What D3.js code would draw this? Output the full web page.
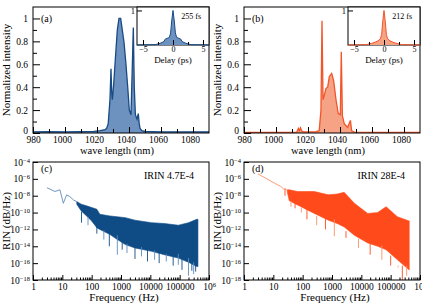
<!DOCTYPE html>
<html>
<head>
<meta charset="utf-8">
<script src="https://cdn.jsdelivr.net/npm/d3@7"></script>
<style>
  body { margin: 0; background: #fff; }
  svg { display: block; }
  text { font-family: "Liberation Serif", "DejaVu Serif", serif; }
</style>
</head>
<body>
<svg id="chart" width="422" height="303"></svg>
<script>
// ---- spectra (a) and (b) ----
const wlA = [980, 990, 1000, 1010, 1018, 1022, 1025, 1026, 1027, 1028.1, 1028.75, 1029.2, 1029.6, 1030.4, 1031.25, 1032.7, 1033.75, 1034.8, 1035.8, 1036.9, 1038.1, 1039.2, 1040.2, 1041.25, 1042.1, 1042.7, 1043.3, 1044, 1045, 1045.8, 1046.4, 1046.9, 1048, 1050, 1060, 1070, 1080, 1090];
const intA = [0.01, 0.012, 0.01, 0.012, 0.015, 0.02, 0.03, 0.04, 0.08, 0.29, 0.56, 0.35, 0.29, 0.42, 0.6, 0.9, 1.0, 1.0, 0.9, 0.79, 0.6, 0.4, 0.2, 0.16, 0.6, 0.92, 0.4, 0.16, 0.12, 0.17, 0.08, 0.04, 0.02, 0.015, 0.01, 0.01, 0.01, 0.01];

const wlB = [980, 990, 1000, 1010, 1013, 1014, 1014.6, 1015.3, 1016, 1017, 1020, 1025, 1027, 1028.1, 1028.75, 1029.4, 1030.2, 1031.25, 1032.3, 1033.3, 1034.8, 1036, 1037.5, 1038.9, 1040.2, 1040.8, 1041.5, 1042.7, 1044.8, 1046.5, 1047.3, 1049, 1060, 1070, 1080, 1090];
const intB = [0.005, 0.005, 0.005, 0.006, 0.008, 0.04, 0.02, 0.045, 0.02, 0.01, 0.01, 0.012, 0.02, 0.2, 0.98, 0.29, 0.33, 0.39, 0.4, 0.49, 0.52, 0.46, 0.29, 0.17, 0.16, 0.71, 0.15, 0.08, 0.05, 0.11, 0.02, 0.008, 0.005, 0.005, 0.005, 0.005];

// ---- autocorrelation insets ----
const delayA = [-6, -3, -2.5, -2, -1.5, -1.3, -1, -0.6, -0.4, -0.2, 0, 0.2, 0.4, 0.6, 1, 1.3, 1.5, 2, 2.5, 3, 6];
const acA = [0, 0.01, 0.03, 0.06, 0.1, 0.17, 0.19, 0.22, 0.35, 0.72, 1.0, 0.72, 0.35, 0.22, 0.19, 0.17, 0.1, 0.06, 0.03, 0.01, 0];
const delayB = [-6, -3, -2.5, -2, -1.5, -1, -0.6, -0.4, -0.2, 0, 0.2, 0.4, 0.6, 1, 1.5, 2, 2.5, 3, 6];
const acB = [0, 0.01, 0.03, 0.05, 0.08, 0.12, 0.18, 0.3, 0.7, 1.0, 0.7, 0.3, 0.18, 0.12, 0.08, 0.05, 0.03, 0.01, 0];

const wlTicks = [980, 1000, 1020, 1040, 1060, 1080];
const wlMinor = [990, 1010, 1030, 1050, 1070];
const intTicks = [0, 0.2, 0.4, 0.6, 0.8, 1];
const intMinor = [0.1, 0.3, 0.5, 0.7, 0.9];

// ---- RIN (c) and (d), values are log10 ----
const traceFreqC = [3, 5.6, 8.3, 10.8, 14, 18, 24, 31];
const traceC = [-7.05, -7.5, -7.3, -8.9, -7.9, -8.1, -8.5, -8.7];
const bandFreqC = [31, 44, 67, 100, 150, 190, 420, 750, 1400, 3000, 11000, 30000, 90000, 200000, 380000, 420000];
const bandTopC = [-8.7, -9.0, -9.2, -9.4, -9.6, -10.2, -10.4, -10.5, -10.6, -10.9, -11.2, -11.3, -11.5, -11.2, -10.8, -10.8];
const bandBotC = [-9.0, -9.8, -10.4, -11.0, -11.8, -12.0, -12.6, -13.2, -13.8, -14.2, -14.6, -15.0, -15.4, -15.9, -16.4, -16.4];
const spikeFreqC = [45, 75, 150, 260, 400, 750, 1100, 1600, 3000, 5000, 8000, 14000, 20000, 35000, 60000, 90000, 120000, 200000, 260000, 300000, 350000];
const spikeC = [-11.2, -11.5, -12.5, -13.2, -14.0, -15.0, -14.4, -14.8, -15.5, -15.2, -15.8, -15.6, -16.0, -15.8, -16.3, -16.2, -16.8, -17.5, -16.9, -17.3, -17.0];

const traceFreqD = [3, 5.6, 10.8, 18, 24, 30];
const traceD = [-5.42, -5.94, -6.5, -6.9, -7.3, -7.3];
const bandFreqD = [30, 35, 67, 190, 250, 750, 1500, 2600, 5800, 16500, 36000, 70000, 170000, 430000];
const bandTopD = [-7.3, -7.3, -7.5, -7.5, -7.5, -7.9, -7.8, -7.6, -8.9, -10.1, -10.0, -9.3, -10.5, -11.0];
const bandBotD = [-7.6, -8.6, -9.1, -9.9, -10.1, -10.9, -11.3, -11.7, -12.7, -13.6, -14.0, -14.4, -15.6, -16.8];
const spikeFreqD = [25, 40, 55, 90, 140, 300, 600, 1200, 3000, 8000, 20000, 50000, 100000, 180000, 250000, 350000];
const spikeD = [-8.0, -9.3, -9.5, -10.0, -10.8, -11.5, -12.0, -12.8, -13.0, -14.2, -15.0, -15.6, -16.3, -16.5, -18.0, -17.5];

const freqTicks = [1, 10, 100, 1000, 10000, 100000, 1000000];
const rinTicks = [1e-4, 1e-6, 1e-8, 1e-10, 1e-12, 1e-14, 1e-16, 1e-18];

const svg = d3.select("#chart");

function styleAxis(g, size) {
  g.select(".domain").remove();
  g.attr("font-family", '"Liberation Serif", "DejaVu Serif", serif').attr("font-size", size);
  g.selectAll(".tick line").attr("stroke", "#000");
  g.selectAll(".tick text").attr("fill", "#000");
}

function spectrumPanel(ox, wl, val, delay, ac, tag, fwhm, col) {
  const g = svg.append("g").attr("transform", `translate(${ox},0)`);
  const x = d3.scaleLinear().domain([980, 1090]).range([33, 209]);
  const y = d3.scaleLinear().domain([0, 1.1]).range([133, 7]);
  const pts = wl.map((w, i) => [w, val[i]]);

  g.append("path").datum(pts)
    .attr("d", d3.area().x(d => x(d[0])).y0(y(0)).y1(d => y(d[1])))
    .attr("fill", col.fill);
  g.append("path").datum(pts)
    .attr("d", d3.line().x(d => x(d[0])).y(d => y(d[1])))
    .attr("fill", "none").attr("stroke", col.line).attr("stroke-width", 1.3);

  // axes, ticks point inward
  g.append("g").attr("transform", "translate(0,133)")
    .call(d3.axisBottom(x).tickValues(wlTicks).tickSize(-6).tickPadding(3).tickFormat(d3.format("d")))
    .call(a => styleAxis(a, 9.5))
    .call(a => a.selectAll(".tick text").attr("dx", d => d === 980 ? 0 : -3));
  g.append("g").attr("transform", "translate(0,133)")
    .call(d3.axisBottom(x).tickValues(wlMinor).tickSize(-4).tickFormat(""))
    .call(a => styleAxis(a, 9));
  g.append("g").attr("transform", "translate(33,0)")
    .call(d3.axisLeft(y).tickValues(intTicks).tickSize(-7).tickPadding(5)
      .tickFormat(d => (d === 0 || d === 1) ? d3.format("d")(d) : d.toFixed(1)))
    .call(a => styleAxis(a, 9.5))
    .call(a => a.selectAll(".tick text").filter(d => d === 0).attr("dy", "0.1em"));
  g.append("g").attr("transform", "translate(33,0)")
    .call(d3.axisLeft(y).tickValues(intMinor).tickSize(-4).tickFormat(""))
    .call(a => styleAxis(a, 9));

  g.append("rect").attr("x", 33).attr("y", 7).attr("width", 176).attr("height", 126)
    .attr("fill", "none").attr("stroke", "#000").attr("stroke-width", 1);

  g.append("text").attr("x", 41).attr("y", 22).attr("font-size", 10).text(tag);
  g.append("text").attr("x", 10).attr("y", 70).attr("font-size", 11)
    .attr("text-anchor", "middle").attr("transform", "rotate(-90,10,70)")
    .text("Normalized intensity");
  g.append("text").attr("x", 117).attr("y", 154).attr("font-size", 10.5)
    .attr("text-anchor", "middle").text("wave length (nm)");

  // inset
  const ix = d3.scaleLinear().domain([-6, 6]).range([137, 209]);
  const iy = d3.scaleLinear().domain([0, 1.1]).range([45, 7]);
  g.append("rect").attr("x", 137).attr("y", 7).attr("width", 72).attr("height", 38)
    .attr("fill", "#fff").attr("stroke", "#000").attr("stroke-width", 1);
  const ipts = delay.map((t, i) => [t, ac[i]]);
  g.append("path").datum(ipts)
    .attr("d", d3.area().x(d => ix(d[0])).y0(iy(0)).y1(d => iy(d[1])))
    .attr("fill", col.fill);
  g.append("path").datum(ipts)
    .attr("d", d3.line().x(d => ix(d[0])).y(d => iy(d[1])))
    .attr("fill", "none").attr("stroke", col.line).attr("stroke-width", 1);
  g.append("g").attr("transform", "translate(0,45)")
    .call(d3.axisBottom(ix).tickValues([-5, 0, 5]).tickSize(-5).tickPadding(1)
      .tickFormat(d => d < 0 ? "\u2212" + (-d) : d))
    .call(a => styleAxis(a, 8));
  g.append("g").attr("transform", "translate(0,45)")
    .call(d3.axisBottom(ix).tickValues([-2.5, 2.5]).tickSize(-3).tickFormat(""))
    .call(a => styleAxis(a, 8));
  g.append("g").attr("transform", "translate(137,0)")
    .call(d3.axisLeft(iy).tickValues([1]).tickSize(-5).tickPadding(2).tickFormat(d3.format("d")))
    .call(a => styleAxis(a, 8.5));
  g.append("text").attr("x", 173).attr("y", 63).attr("font-size", 9)
    .attr("text-anchor", "middle").text("Delay (ps)");
  g.append("text").attr("x", 201).attr("y", 19).attr("font-size", 8)
    .attr("text-anchor", "end").text(fwhm);
}

function rinPanel(ox, tf, tv, bf, top, bot, sf, sv, tag, irin, col) {
  const g = svg.append("g").attr("transform", `translate(${ox},0)`);
  const x = d3.scaleLog().domain([1, 1e6]).range([33, 209]);
  const y = d3.scaleLog().domain([1e-18, 1e-4]).range([280, 162]);
  const p = v => Math.pow(10, v);
  // band bottom under a given frequency, read from the band arrays
  const botAt = f => {
    const i = Math.min(d3.bisectLeft(bf, f), bf.length - 1);
    return bot[i];
  };

  const band = bf.map((f, i) => [f, top[i], bot[i]]);
  g.append("path").datum(band)
    .attr("d", d3.area().x(d => x(d[0])).y0(d => y(p(d[2]))).y1(d => y(p(d[1]))))
    .attr("fill", col.dark).attr("stroke", col.dark).attr("stroke-width", 0.6);
  g.selectAll(".spk").data(sf.map((f, i) => [f, sv[i]])).join("line")
    .attr("x1", d => x(d[0])).attr("x2", d => x(d[0]))
    .attr("y1", d => y(p(botAt(d[0]) + 0.5)))
    .attr("y2", d => y(p(d[1])))
    .attr("stroke", (d, i) => i % 2 ? col.light : col.dark).attr("stroke-width", 0.9);
  g.append("path").datum(tf.map((f, i) => [f, tv[i]]))
    .attr("d", d3.line().x(d => x(d[0])).y(d => y(p(d[1]))))
    .attr("fill", "none").attr("stroke", col.light).attr("stroke-width", 0.9);

  const minor = [];
  for (let e = 0; e < 6; e++) for (let k = 2; k < 10; k++) minor.push(k * Math.pow(10, e));

  g.append("g").attr("transform", "translate(0,280)")
    .call(d3.axisBottom(x).tickValues(freqTicks).tickSize(-5).tickPadding(3).tickFormat(d => d < 1e6 ? d3.format("d")(d) : ""))
    .call(a => styleAxis(a, 9.5))
    .call(a => a.selectAll(".tick text").filter(d => d === 1e6).each(function () {
      const t = d3.select(this);
      t.append("tspan").text("10");
      t.append("tspan").attr("dy", "-0.45em").attr("font-size", 6.5).text("6");
    }));
  g.append("g").attr("transform", "translate(0,280)")
    .call(d3.axisBottom(x).tickValues(minor).tickSize(-2.5).tickFormat(""))
    .call(a => styleAxis(a, 9));
  g.append("g").attr("transform", "translate(33,0)")
    .call(d3.axisLeft(y).tickValues(rinTicks).tickSize(-5).tickPadding(3).tickFormat(""))
    .call(a => styleAxis(a, 9.5))
    .call(a => a.selectAll(".tick text").each(function (d) {
      const t = d3.select(this);
      t.append("tspan").text("10");
      t.append("tspan").attr("dy", "-0.45em").attr("font-size", 6.5)
        .text("\u2212" + Math.round(-Math.log10(d)));
    }));

  g.append("rect").attr("x", 33).attr("y", 162).attr("width", 176).attr("height", 118)
    .attr("fill", "none").attr("stroke", "#000").attr("stroke-width", 1);

  g.append("text").attr("x", 41).attr("y", 172).attr("font-size", 10).text(tag);
  g.append("text").attr("x", 194).attr("y", 179).attr("font-size", 10)
    .attr("text-anchor", "end").text(irin);
  g.append("text").attr("x", 10).attr("y", 221).attr("font-size", 11)
    .attr("text-anchor", "middle").attr("transform", "rotate(-90,10,221)")
    .text("RIN (dB/Hz)");
  g.append("text").attr("x", 124).attr("y", 301).attr("font-size", 11)
    .attr("text-anchor", "middle").text("Frequency (Hz)");
}

spectrumPanel(0, wlA, intA, delayA, acA, "(a)", "255 fs", { fill: "#6d92c0", line: "#184b84" });
spectrumPanel(211, wlB, intB, delayB, acB, "(b)", "212 fs", { fill: "#f5a384", line: "#f2552a" });
rinPanel(0, traceFreqC, traceC, bandFreqC, bandTopC, bandBotC, spikeFreqC, spikeC, "(c)", "IRIN 4.7E-4",
  { dark: "#0f4c86", light: "#5d8cc0" });
rinPanel(211, traceFreqD, traceD, bandFreqD, bandTopD, bandBotD, spikeFreqD, spikeD, "(d)", "IRIN 28E-4",
  { dark: "#ff4b1c", light: "#ff8f66" });
</script>
</body>
</html>
